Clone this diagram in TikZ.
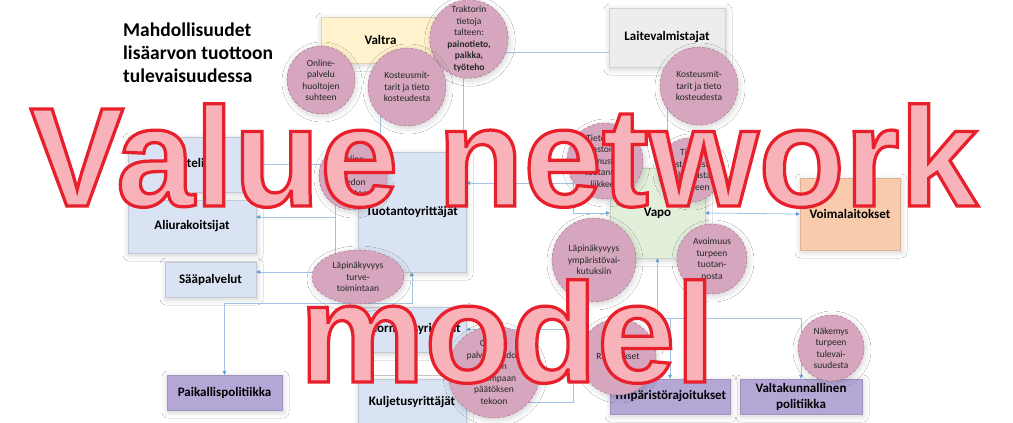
\documentclass[tikz,border=0pt]{standalone}
\usepackage{fontspec}
\setmainfont{Carlito}
\newfontfamily\artfont[FakeBold=2.3]{Liberation Sans}
\usetikzlibrary{shapes.geometric,shadows.blur,arrows.meta}

\definecolor{linkblue}{HTML}{A3C4E8}
\definecolor{tipblue}{HTML}{5B9BD5}
\definecolor{actorblue}{HTML}{DAE3F3}
\definecolor{valtrayellow}{HTML}{FFF2CC}
\definecolor{laitegray}{HTML}{EDEDED}
\definecolor{vapogreen}{HTML}{E2EFDA}
\definecolor{voimaorange}{HTML}{F8CBAD}
\definecolor{policypurple}{HTML}{B4A7D6}
\definecolor{ideapink}{HTML}{D5A6BD}
\definecolor{ideaedge}{HTML}{A56A86}
\definecolor{artfill}{HTML}{F7B3B9}
\newcommand{\artstroke}{\special{pdf:literal direct 0.91 0.125 0.173 RG}}

\begin{document}
\begin{tikzpicture}[x=1pt,y=1pt,yscale=-1,xscale=1,
    >={Triangle[length=4pt,width=3.5pt,color=tipblue]},
    softshadow/.style={blur shadow={shadow blur radius=6pt,shadow blur steps=8,shadow xshift=1pt,shadow yshift=-2pt,shadow opacity=18}},
    box/.style={rectangle,fill=#1,draw=#1!88!black,line width=0.3pt,softshadow,
        font=\bfseries\fontsize{13}{16}\selectfont,align=center,inner sep=1pt},
    idea/.style={circle,fill=ideapink,draw=ideaedge,densely dashed,line width=0.4pt,softshadow,
        minimum size=#1,inner sep=0pt,align=center,text=black!85,font=\fontsize{9.5}{11.5}\selectfont},
    ideaoval/.style={ellipse,fill=ideapink,draw=ideaedge,densely dashed,line width=0.4pt,softshadow,
        inner sep=0pt,align=center,text=black!85,font=\fontsize{9.5}{11.5}\selectfont},
    link/.style={draw=linkblue,line width=0.8pt},
    artword/.style={font=\artfont\bfseries\fontsize{141}{150}\selectfont,inner sep=0pt,anchor=base,text=artfill}]
    \useasboundingbox (0,0) rectangle (1013,423);
    \fill[white] (0,0) rectangle (1013,423);

    % title
    \node[anchor=north west,inner sep=0pt,align=left,font=\bfseries\fontsize{19.5}{23}\selectfont] (title) at (123,23) {Mahdollisuudet\\lisäarvon tuottoon\\tulevaisuudessa};

    % actors
    \node[box=valtrayellow,minimum width=119,minimum height=46] (valtra) at (380.5,40) {Valtra};
    \node[box=laitegray,minimum width=116,minimum height=59] (laite) at (667,37.5) {Laitevalmistajat};
    \node[box=actorblue,minimum width=129,minimum height=55] (kantelijat) at (192.5,164.5) {Kantelijat};
    \node[box=actorblue,minimum width=128,minimum height=53] (ali) at (192,226.5) {Aliurakoitsijat};
    \node[box=actorblue,minimum width=91,minimum height=35] (saa) at (210.5,279.5) {Sääpalvelut};
    \node[box=actorblue,minimum width=108,minimum height=120] (tuot) at (412,212) {Tuotantoyrittäjät};
    \node[box=vapogreen,minimum width=95,minimum height=90] (vapo) at (657.5,213) {Vapo};
    \node[box=voimaorange,minimum width=100,minimum height=72] (voima) at (850,214) {Voimalaitokset};
    \node[box=actorblue,minimum width=108,minimum height=45] (kuorm) at (412,329.5) {Kuormausyrittäjät};
    \node[box=actorblue,minimum width=108,minimum height=45] (kulj) at (412,402) {Kuljetusyrittäjät};
    \node[box=policypurple,minimum width=115,minimum height=35] (paik) at (224.5,392.5) {Paikallispolitiikka};
    \node[box=policypurple,minimum width=120,minimum height=35] (ymp) at (670,396.5) {Ympäristörajoitukset};
    \node[box=policypurple,minimum width=122,minimum height=35] (valtak) at (801,396.5) {Valtakunnallinen\\politiikka};

    % connectors
    \coordinate (busTop) at (335,164.5);
    \coordinate (tvBend) at (573,183);
    \coordinate (kkBend) at (573,365);
    \coordinate (policyBend) at (670,318);
    \draw[link] (valtra.south) -- (valtra.south |- tuot.north);
    \draw[link,->] ([yshift=14.5pt]laite.west) -| ([xshift=-3pt]tuot.north east);
    \draw[link,->] (laite.south) -- (laite.south |- vapo.north);
    \draw[link,<->] ([yshift=-29pt]tuot.east) -- (tvBend) |- (vapo.west);
    \draw[link,<->] (vapo.east) -- (voima.west);
    \draw[link,<->] (vapo.south) |- (valtak.north |- policyBend) -- (valtak.north);
    \draw[link,->] (policyBend) -- (ymp.north);
    \draw[link,<->] (kuorm.east) -| (kkBend) |- (kulj.east);
    \draw[link,->] ([yshift=-7pt]tuot.west) -| (busTop) -- (kantelijat.east);
    \draw[link,->] (busTop) |- ([yshift=-9.5pt]ali.east);
    \draw[link,->] (busTop) |- ([yshift=-7.5pt]saa.east);
    \draw[link,<->] (tuot.south) |- (paik.north |- 0,303) -- (paik.north);

    % ideas
    \node[idea=68] (onlineHuolto) at (321,80) {Online-\\palvelu\\huoltojen\\suhteen};
    \node[idea=78] (traktori) at (469,39) {Traktorin\\tietoja\\talteen:\\\textbf{painotieto,}\\\textbf{paikka,}\\\textbf{työteho}};
    \node[idea=78] (kosteusValtra) at (407,87) {Kosteusmit-\\tarit ja tieto\\kosteudesta};
    \node[idea=78] (kosteusLaite) at (699,86) {Kosteusmit-\\tarit ja tieto\\kosteudesta};
    \node[idea=68] (onlineTieto) at (353,176) {Online-\\palvelu\\tiedon\\hallintoon};
    \node[idea=76] (tietoSaa) at (605,161) {Tieto sää-\\tilastoista,\\ennustus\\tuotannon\\liikkeen};
    \node[idea=64] (tietoLaatu) at (690,170) {Tieto\\kosteudesta\\ja laadusta\\etukäteen};
    \node[idea=84] (lapiYmp) at (594,260) {Läpinäkyvyys\\ympäristövai-\\kutuksiin};
    \node[idea=70] (avoimuus) at (712,259) {Avoimuus\\turpeen\\tuotan-\\nosta};
    \node[ideaoval,minimum width=92,minimum height=54] (lapiTurve) at (358,277) {Läpinäkyvyys\\turve-\\toimintaan};
    \node[idea=92] (onlineKulj) at (494,372) {Online-\\palvelu tiedon\\jakoon\\parempaan\\päätöksen\\tekoon};
    \node[idea=76] (rajoitukset) at (618,357) {Rajoitukset};
    \node[idea=66] (nakemys) at (831,348) {Näkemys\\turpeen\\tulevai-\\suudesta};

    % word art on top
    \node[artword] (artTop) at (504,206) {\artstroke Value network};
    \node[artword] (artBottom) at (507,382) {\artstroke model};
\end{tikzpicture}
\end{document}
